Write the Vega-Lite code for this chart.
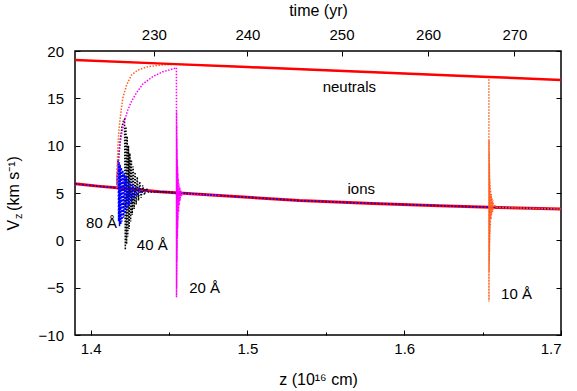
{
  "$schema": "https://vega.github.io/schema/vega-lite/v6.json",
  "width": 486,
  "height": 284,
  "autosize": {"type": "none"},
  "padding": {"left": 75, "top": 51, "right": 16, "bottom": 56},
  "background": "white",
  "config": {
    "view": {"stroke": "black", "strokeWidth": 1.5},
    "font": "Liberation Sans",
    "axis": {
      "labelFont": "Liberation Sans",
      "titleFont": "Liberation Sans",
      "labelFontSize": 15,
      "titleFontSize": 16,
      "titleFontWeight": "normal",
      "labelColor": "black",
      "titleColor": "black",
      "domain": false,
      "grid": false,
      "tickColor": "black",
      "tickWidth": 1,
      "tickSize": -5
    }
  },
  "datasets": {
    "curves": [
      {"s": "ions", "z": 1.39, "v": 5.97}, {"s": "ions", "z": 1.406, "v": 5.7}, {"s": "ions", "z": 1.4167, "v": 5.55}, {"s": "ions", "z": 1.444, "v": 5.14}, {"s": "ions", "z": 1.482, "v": 4.74}, {"s": "ions", "z": 1.533, "v": 4.2}, {"s": "ions", "z": 1.58, "v": 3.9}, {"s": "ions", "z": 1.622, "v": 3.66}, {"s": "ions", "z": 1.66, "v": 3.47}, {"s": "ions", "z": 1.7, "v": 3.31},

      {"s": "neutrals", "z": 1.39, "v": 19.05}, {"s": "neutrals", "z": 1.45, "v": 18.64}, {"s": "neutrals", "z": 1.5, "v": 18.3}, {"s": "neutrals", "z": 1.55, "v": 17.96}, {"s": "neutrals", "z": 1.6, "v": 17.62}, {"s": "neutrals", "z": 1.65, "v": 17.28}, {"s": "neutrals", "z": 1.7, "v": 16.94},

      {"s": "40", "z": 1.4167, "v": 5.55}, {"s": "40", "z": 1.4172, "v": 7.0}, {"s": "40", "z": 1.418, "v": 9.0}, {"s": "40", "z": 1.419, "v": 10.8}, {"s": "40", "z": 1.42, "v": 12.0}, {"s": "40", "z": 1.421, "v": 12.7}, {"s": "40", "z": 1.4216, "v": 12.8}, {"s": "40", "z": 1.4221, "v": -1.0}, {"s": "40", "z": 1.4225, "v": 12.0}, {"s": "40", "z": 1.4229, "v": -0.4}, {"s": "40", "z": 1.4233, "v": 11.0}, {"s": "40", "z": 1.4237, "v": 0.4}, {"s": "40", "z": 1.4241, "v": 10.0}, {"s": "40", "z": 1.4245, "v": 1.2}, {"s": "40", "z": 1.425, "v": 9.2}, {"s": "40", "z": 1.4255, "v": 2.0}, {"s": "40", "z": 1.426, "v": 8.5}, {"s": "40", "z": 1.4265, "v": 2.7}, {"s": "40", "z": 1.4271, "v": 7.8}, {"s": "40", "z": 1.4277, "v": 3.3}, {"s": "40", "z": 1.4283, "v": 7.2}, {"s": "40", "z": 1.429, "v": 3.8}, {"s": "40", "z": 1.4297, "v": 6.7}, {"s": "40", "z": 1.4305, "v": 4.2}, {"s": "40", "z": 1.4313, "v": 6.2}, {"s": "40", "z": 1.4322, "v": 4.5}, {"s": "40", "z": 1.4332, "v": 5.8}, {"s": "40", "z": 1.4343, "v": 4.8}, {"s": "40", "z": 1.4355, "v": 5.5}, {"s": "40", "z": 1.437, "v": 5.1}, {"s": "40", "z": 1.444, "v": 5.14}, {"s": "40", "z": 1.482, "v": 4.74},

      {"s": "80", "z": 1.39, "v": 5.97}, {"s": "80", "z": 1.406, "v": 5.7}, {"s": "80", "z": 1.4167, "v": 5.55}, {"s": "80", "z": 1.4169, "v": 6.8}, {"s": "80", "z": 1.4172, "v": 8.0}, {"s": "80", "z": 1.4175, "v": 8.5}, {"s": "80", "z": 1.4178, "v": 2.0}, {"s": "80", "z": 1.4181, "v": 8.3}, {"s": "80", "z": 1.4184, "v": 1.5}, {"s": "80", "z": 1.4188, "v": 8.0}, {"s": "80", "z": 1.4192, "v": 1.7}, {"s": "80", "z": 1.4196, "v": 7.7}, {"s": "80", "z": 1.42, "v": 2.0}, {"s": "80", "z": 1.4205, "v": 7.4}, {"s": "80", "z": 1.421, "v": 2.4}, {"s": "80", "z": 1.4215, "v": 7.1}, {"s": "80", "z": 1.422, "v": 2.8}, {"s": "80", "z": 1.4226, "v": 6.8}, {"s": "80", "z": 1.4232, "v": 3.2}, {"s": "80", "z": 1.4238, "v": 6.5}, {"s": "80", "z": 1.4245, "v": 3.6}, {"s": "80", "z": 1.4252, "v": 6.2}, {"s": "80", "z": 1.426, "v": 4.0}, {"s": "80", "z": 1.4268, "v": 5.95}, {"s": "80", "z": 1.4277, "v": 4.4}, {"s": "80", "z": 1.4287, "v": 5.7}, {"s": "80", "z": 1.4298, "v": 4.7}, {"s": "80", "z": 1.431, "v": 5.5}, {"s": "80", "z": 1.4324, "v": 4.95}, {"s": "80", "z": 1.434, "v": 5.35}, {"s": "80", "z": 1.436, "v": 5.15}, {"s": "80", "z": 1.444, "v": 5.14}, {"s": "80", "z": 1.482, "v": 4.74}, {"s": "80", "z": 1.533, "v": 4.2}, {"s": "80", "z": 1.58, "v": 3.9}, {"s": "80", "z": 1.622, "v": 3.66}, {"s": "80", "z": 1.66, "v": 3.47}, {"s": "80", "z": 1.7, "v": 3.31},

      {"s": "20", "z": 1.4167, "v": 5.55}, {"s": "20", "z": 1.417, "v": 7.0}, {"s": "20", "z": 1.4175, "v": 8.5}, {"s": "20", "z": 1.4183, "v": 9.8}, {"s": "20", "z": 1.4195, "v": 11.0}, {"s": "20", "z": 1.4212, "v": 12.4}, {"s": "20", "z": 1.4235, "v": 13.7}, {"s": "20", "z": 1.4261, "v": 14.7}, {"s": "20", "z": 1.4293, "v": 15.6}, {"s": "20", "z": 1.4332, "v": 16.5}, {"s": "20", "z": 1.4396, "v": 17.29}, {"s": "20", "z": 1.4459, "v": 17.8}, {"s": "20", "z": 1.4523, "v": 18.1}, {"s": "20", "z": 1.4547, "v": 18.24}, {"s": "20", "z": 1.45475, "v": -6.0}, {"s": "20", "z": 1.4548, "v": 13.6}, {"s": "20", "z": 1.45485, "v": -5.0}, {"s": "20", "z": 1.4549, "v": 12.2}, {"s": "20", "z": 1.45495, "v": -3.6}, {"s": "20", "z": 1.455, "v": 10.8}, {"s": "20", "z": 1.45505, "v": -2.2}, {"s": "20", "z": 1.4551, "v": 9.6}, {"s": "20", "z": 1.45515, "v": -1.0}, {"s": "20", "z": 1.4552, "v": 8.6}, {"s": "20", "z": 1.4553, "v": 0.2}, {"s": "20", "z": 1.4554, "v": 7.8}, {"s": "20", "z": 1.4555, "v": 1.3}, {"s": "20", "z": 1.4556, "v": 7.1}, {"s": "20", "z": 1.4557, "v": 2.2}, {"s": "20", "z": 1.4559, "v": 6.5}, {"s": "20", "z": 1.4561, "v": 3.0}, {"s": "20", "z": 1.4563, "v": 6.0}, {"s": "20", "z": 1.4565, "v": 3.7}, {"s": "20", "z": 1.4568, "v": 5.6}, {"s": "20", "z": 1.4571, "v": 4.2}, {"s": "20", "z": 1.4574, "v": 5.3}, {"s": "20", "z": 1.4578, "v": 4.6}, {"s": "20", "z": 1.4583, "v": 5.0}, {"s": "20", "z": 1.46, "v": 4.9}, {"s": "20", "z": 1.482, "v": 4.74},

      {"s": "10", "z": 1.4167, "v": 5.55}, {"s": "10", "z": 1.417, "v": 8.0}, {"s": "10", "z": 1.4174, "v": 10.0}, {"s": "10", "z": 1.418, "v": 11.6}, {"s": "10", "z": 1.4186, "v": 12.54}, {"s": "10", "z": 1.4195, "v": 13.8}, {"s": "10", "z": 1.4205, "v": 15.04}, {"s": "10", "z": 1.4229, "v": 16.4}, {"s": "10", "z": 1.4261, "v": 17.47}, {"s": "10", "z": 1.4301, "v": 17.99}, {"s": "10", "z": 1.4364, "v": 18.34}, {"s": "10", "z": 1.4452, "v": 18.52}, {"s": "10", "z": 1.4536, "v": 18.6}, {"s": "10", "z": 1.5, "v": 18.3}, {"s": "10", "z": 1.55, "v": 17.96}, {"s": "10", "z": 1.6, "v": 17.62}, {"s": "10", "z": 1.654, "v": 17.25}, {"s": "10", "z": 1.65405, "v": -6.47}, {"s": "10", "z": 1.6541, "v": 10.6}, {"s": "10", "z": 1.65415, "v": -3.4}, {"s": "10", "z": 1.6542, "v": 9.2}, {"s": "10", "z": 1.65425, "v": -2.2}, {"s": "10", "z": 1.6543, "v": 8.0}, {"s": "10", "z": 1.65435, "v": -1.2}, {"s": "10", "z": 1.6544, "v": 7.1}, {"s": "10", "z": 1.6545, "v": -0.2}, {"s": "10", "z": 1.6546, "v": 6.4}, {"s": "10", "z": 1.6547, "v": 0.7}, {"s": "10", "z": 1.6548, "v": 5.8}, {"s": "10", "z": 1.6549, "v": 1.5}, {"s": "10", "z": 1.6551, "v": 5.3}, {"s": "10", "z": 1.6553, "v": 2.2}, {"s": "10", "z": 1.6555, "v": 4.9}, {"s": "10", "z": 1.6557, "v": 2.7}, {"s": "10", "z": 1.656, "v": 4.5}, {"s": "10", "z": 1.6563, "v": 3.0}, {"s": "10", "z": 1.6566, "v": 4.2}, {"s": "10", "z": 1.657, "v": 3.3}, {"s": "10", "z": 1.6575, "v": 3.8}, {"s": "10", "z": 1.6582, "v": 3.5}, {"s": "10", "z": 1.66, "v": 3.47}, {"s": "10", "z": 1.7, "v": 3.31}
    ],
    "labels": [
      {"t": "neutrals", "z": 1.565, "v": 15.67},
      {"t": "ions", "z": 1.5726, "v": 4.9},
      {"t": "80 Å", "z": 1.4069, "v": 1.3},
      {"t": "40 Å", "z": 1.4393, "v": -1.02},
      {"t": "20 Å", "z": 1.4727, "v": -5.59},
      {"t": "10 Å", "z": 1.6716, "v": -6.23}
    ]
  },
  "data": {"name": "curves"},
  "layer": [
    {
      "transform": [{"filter": "datum.s == 'ions'"}],
      "mark": {"type": "line", "color": "#ff0000", "strokeWidth": 3, "clip": true},
      "encoding": {
        "x": {"field": "z", "type": "quantitative", "scale": {"domain": [1.39, 1.7], "nice": false, "zero": false},
          "axis": {"orient": "bottom", "values": [1.4, 1.5, 1.6, 1.7], "format": ".1f", "tickSize": -5, "labelPadding": 23, "labelBaseline": "alphabetic", "title": "z (10\u00b9\u2076 cm)", "titleY": 49.5, "titleBaseline": "alphabetic"}},
        "y": {"field": "v", "type": "quantitative", "scale": {"domain": [-10, 20], "nice": false, "zero": false},
          "axis": {"orient": "left", "values": [-10, -5, 0, 5, 10, 15, 20], "tickSize": -5, "labelPadding": 16.5, "title": "V\u00a0\u00a0(km s\u207b\u00b9)", "titleAngle": 270, "titleX": -57, "titleY": 179, "titleAlign": "left", "titleBaseline": "alphabetic"}}
      }
    },
    {
      "transform": [{"filter": "datum.s == '40'"}],
      "mark": {"type": "line", "color": "#000000", "strokeWidth": 1.5, "strokeDash": [1.5, 1.5], "clip": true},
      "encoding": {
        "x": {"field": "z", "type": "quantitative", "scale": {"domain": [1.39, 1.7], "nice": false, "zero": false},
          "axis": {"orient": "bottom", "values": [1.45, 1.55, 1.65], "tickSize": -3, "labels": false, "title": null}},
        "y": {"field": "v", "type": "quantitative", "scale": {"domain": [-10, 20], "nice": false, "zero": false},
          "axis": {"orient": "left", "ticks": false, "labels": false, "title": "z", "titleFontSize": 11, "titleAngle": 270, "titleX": -54, "titleY": 167.5, "titleAlign": "left", "titleBaseline": "alphabetic"}}
      }
    },
    {
      "transform": [{"filter": "datum.s == '80'"}],
      "mark": {"type": "line", "color": "#0000ff", "strokeWidth": 1.5, "strokeDash": [2, 1.5], "clip": true},
      "encoding": {
        "x": {"field": "z", "type": "quantitative", "scale": {"domain": [1.39, 1.7], "nice": false, "zero": false}, "axis": null},
        "y": {"field": "v", "type": "quantitative", "scale": {"domain": [-10, 20], "nice": false, "zero": false}, "axis": null}
      }
    },
    {
      "transform": [{"filter": "datum.s == '20'"}],
      "mark": {"type": "line", "color": "#ff00ff", "strokeWidth": 1.5, "strokeDash": [1.5, 1.5], "clip": true},
      "encoding": {
        "x": {"field": "z", "type": "quantitative", "scale": {"domain": [1.39, 1.7], "nice": false, "zero": false}, "axis": null},
        "y": {"field": "v", "type": "quantitative", "scale": {"domain": [-10, 20], "nice": false, "zero": false}, "axis": null}
      }
    },
    {
      "transform": [{"filter": "datum.s == '10'"}],
      "mark": {"type": "line", "color": "#ff6020", "strokeWidth": 1.5, "strokeDash": [1.5, 1.5], "clip": true},
      "encoding": {
        "x": {"field": "z", "type": "quantitative", "scale": {"domain": [1.39, 1.7], "nice": false, "zero": false}, "axis": null},
        "y": {"field": "v", "type": "quantitative", "scale": {"domain": [-10, 20], "nice": false, "zero": false}, "axis": null}
      }
    },
    {
      "transform": [{"filter": "datum.s == 'neutrals'"}],
      "mark": {"type": "line", "color": "#ff0000", "strokeWidth": 2.5, "clip": true},
      "encoding": {
        "x": {"field": "z", "type": "quantitative", "scale": {"domain": [1.39, 1.7], "nice": false, "zero": false},
          "axis": {"orient": "top", "values": [1.4403, 1.5, 1.56, 1.6152, 1.6703], "labelExpr": "datum.value < 1.47 ? '230' : datum.value < 1.53 ? '240' : datum.value < 1.59 ? '250' : datum.value < 1.64 ? '260' : '270'", "tickSize": -5, "labelPadding": 17, "labelBaseline": "alphabetic", "title": "time (yr)", "titleY": -36, "titleBaseline": "alphabetic"}},
        "y": {"field": "v", "type": "quantitative", "scale": {"domain": [-10, 20], "nice": false, "zero": false},
          "axis": {"orient": "right", "values": [-10, -5, 0, 5, 10, 15, 20], "tickSize": -5, "labels": false, "title": null}}
      }
    },
    {
      "data": {"name": "labels"},
      "mark": {"type": "text", "font": "Liberation Sans", "fontSize": 15, "color": "black", "align": "center", "baseline": "alphabetic"},
      "encoding": {
        "x": {"field": "z", "type": "quantitative", "scale": {"domain": [1.39, 1.7], "nice": false, "zero": false}, "axis": null},
        "y": {"field": "v", "type": "quantitative", "scale": {"domain": [-10, 20], "nice": false, "zero": false}, "axis": null},
        "text": {"field": "t"}
      }
    }
  ],
  "resolve": {"axis": {"x": "independent", "y": "independent"}}
}
